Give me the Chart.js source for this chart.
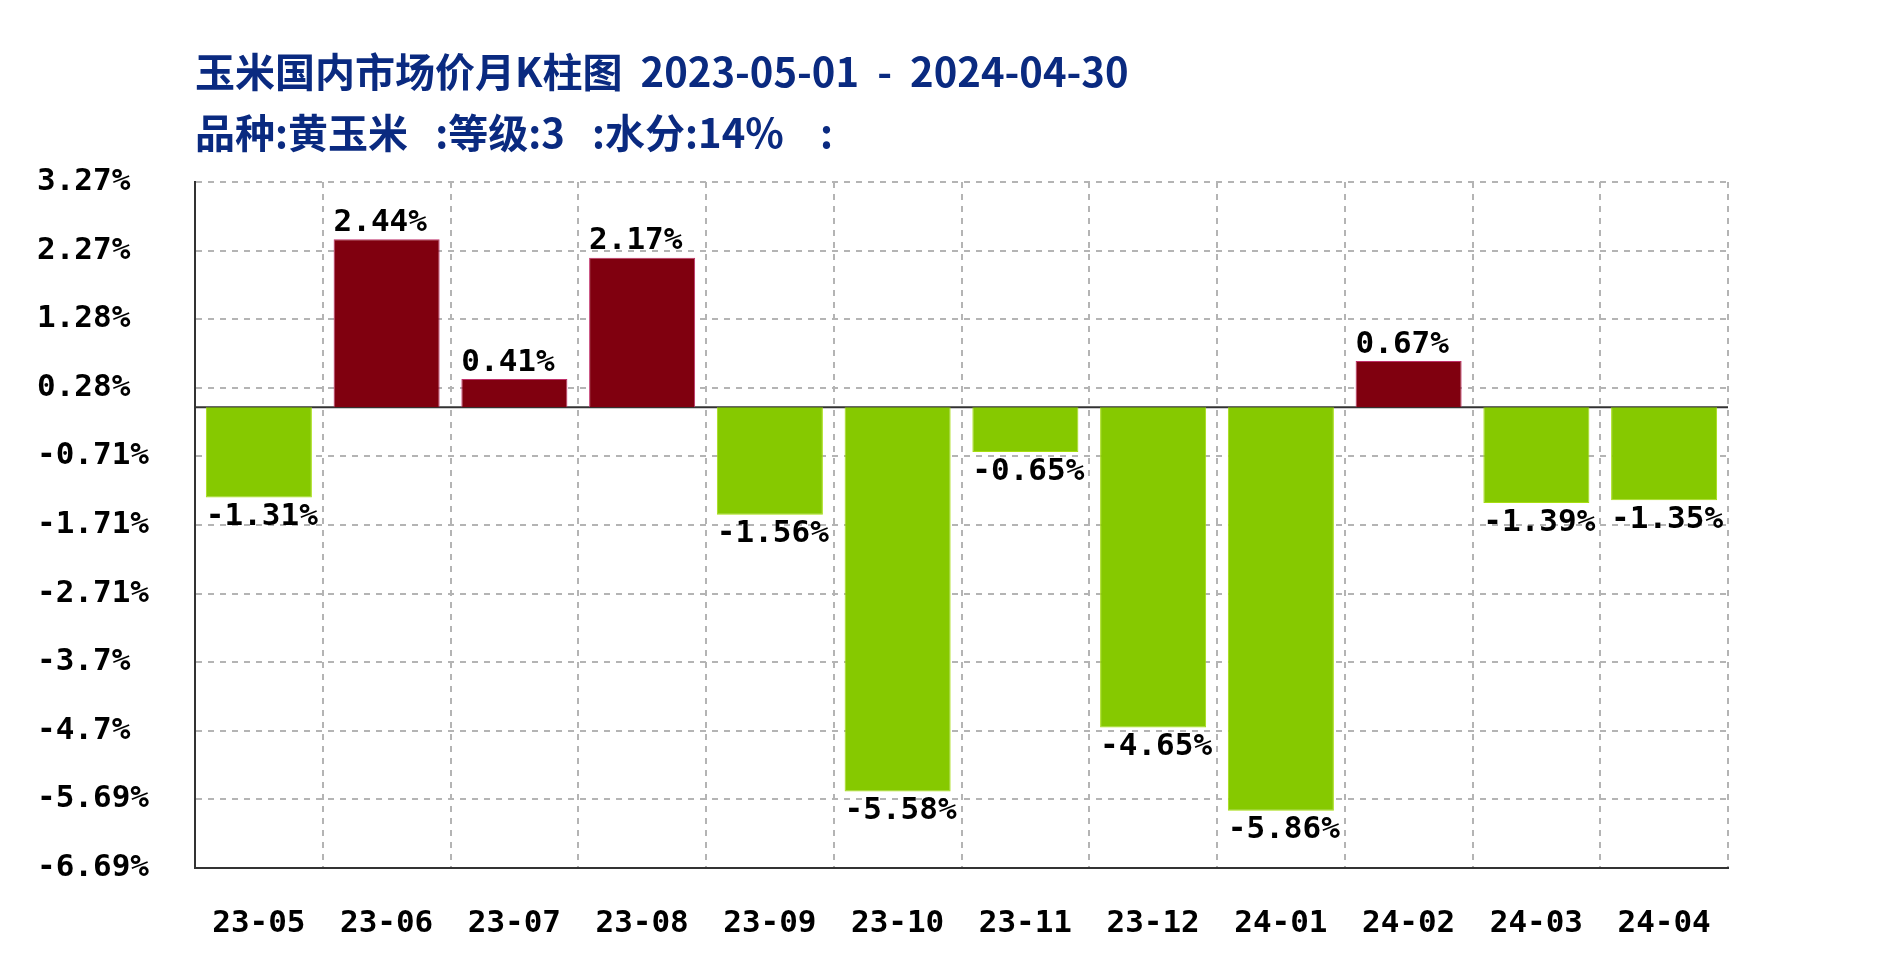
<!DOCTYPE html>
<html>
<head>
<meta charset="utf-8">
<script src="https://cdn.jsdelivr.net/npm/chart.js@4/dist/chart.umd.min.js"></script>
<style>
  html, body { margin: 0; padding: 0; background: #fff; }
  #wrap { width: 1890px; height: 961px; }
</style>
</head>
<body>
<div id="wrap"><canvas id="myBarChart"></canvas></div>
<script>
// data
const months = ['23-05', '23-06', '23-07', '23-08', '23-09', '23-10',
                '23-11', '23-12', '24-01', '24-02', '24-03', '24-04'];
const changes = [-1.31, 2.44, 0.41, 2.17, -1.56, -5.58, -0.65, -4.65, -5.86, 0.67, -1.39, -1.35];
const yTicks = [3.27, 2.27, 1.28, 0.28, -0.71, -1.71, -2.71, -3.7, -4.7, -5.69, -6.69];

const titleText = '玉米国内市场价月K柱图  2023-05-01  -  2024-04-30';
const subtitleText = '品种:黄玉米   :等级:3   :水分:14%    :';

const upColor = '#80000f';
const downColor = '#86c900';
const monoFont = "'DejaVu Sans Mono', 'Liberation Mono', monospace";

// zero line + value labels
const barExtras = {
    id: 'barExtras',
    beforeDatasetsDraw(chart) {
        const { ctx, chartArea, scales } = chart;
        const y0 = scales.y.getPixelForValue(0);
        ctx.save();
        ctx.strokeStyle = '#333';
        ctx.lineWidth = 2;
        ctx.beginPath();
        ctx.moveTo(chartArea.left, y0);
        ctx.lineTo(chartArea.right, y0);
        ctx.stroke();
        ctx.restore();
    },
    afterDatasetsDraw(chart) {
        const { ctx } = chart;
        const meta = chart.getDatasetMeta(0);
        ctx.save();
        ctx.font = 'bold 31px ' + monoFont;
        ctx.fillStyle = '#000';
        ctx.textAlign = 'left';
        meta.data.forEach((bar, i) => {
            const v = changes[i];
            const left = bar.x - bar.width / 2;
            const txt = v.toFixed(2) + '%';
            if (v >= 0) {
                ctx.textBaseline = 'bottom';
                ctx.fillText(txt, left, bar.y - 1);
            } else {
                ctx.textBaseline = 'top';
                ctx.fillText(txt, left, bar.y + 4);
            }
        });
        ctx.restore();
    }
};

const ctx = document.getElementById('myBarChart').getContext('2d');

new Chart(ctx, {
    type: 'bar',
    data: {
        labels: months,
        datasets: [{
            data: changes,
            backgroundColor: changes.map(v => v >= 0 ? upColor : downColor),
            borderColor: changes.map(v => v >= 0 ? '#c0306a' : '#a6dd10'),
            borderWidth: 1,
            barPercentage: 0.83,
            categoryPercentage: 1.0,
        }],
    },
    options: {
        responsive: true,
        maintainAspectRatio: false,
        animation: false,
        layout: { padding: { left: 37, right: 162, top: 0, bottom: 0 } },
        plugins: {
            legend: { display: false },
            tooltip: { enabled: false },
            title: {
                display: true,
                text: titleText,
                align: 'start',
                fullSize: false,
                color: '#0a2a80',
                font: { family: "'Noto Sans CJK SC', sans-serif", size: 40, weight: 'bold', lineHeight: 1.2 },
                padding: { top: 48, bottom: 0 },
            },
            subtitle: {
                display: true,
                text: subtitleText,
                align: 'start',
                fullSize: false,
                color: '#0a2a80',
                font: { family: "'Noto Sans CJK SC', sans-serif", size: 40, weight: 'bold', lineHeight: 1.2 },
                padding: { top: 13, bottom: 25 },
            },
        },
        scales: {
            x: {
                afterFit(scale) { scale.height = 93; },
                grid: {
                    display: true,
                    offset: true,
                    color: '#b4b4b4',
                    lineWidth: 2,
                    drawTicks: false,
                },
                border: { display: true, color: '#333', width: 2, dash: [6, 6] },
                ticks: {
                    color: '#000',
                    padding: 37,
                    font: { family: monoFont, size: 31, weight: 'bold' },
                },
            },
            y: {
                min: -6.69,
                max: 3.27,
                afterBuildTicks(scale) {
                    scale.ticks = yTicks.map(v => ({ value: v }));
                },
                afterFit(scale) { scale.width = 158; },
                grid: {
                    color: '#b4b4b4',
                    lineWidth: 2,
                    drawTicks: false,
                },
                border: { display: true, color: '#333', width: 2, dash: [6, 6] },
                ticks: {
                    color: '#000',
                    padding: 20,
                    crossAlign: 'far',
                    font: { family: monoFont, size: 31, weight: 'bold' },
                    callback: function (value) {
                        return value + '%';
                    },
                },
            },
        },
    },
    plugins: [barExtras],
});
</script>
</body>
</html>
